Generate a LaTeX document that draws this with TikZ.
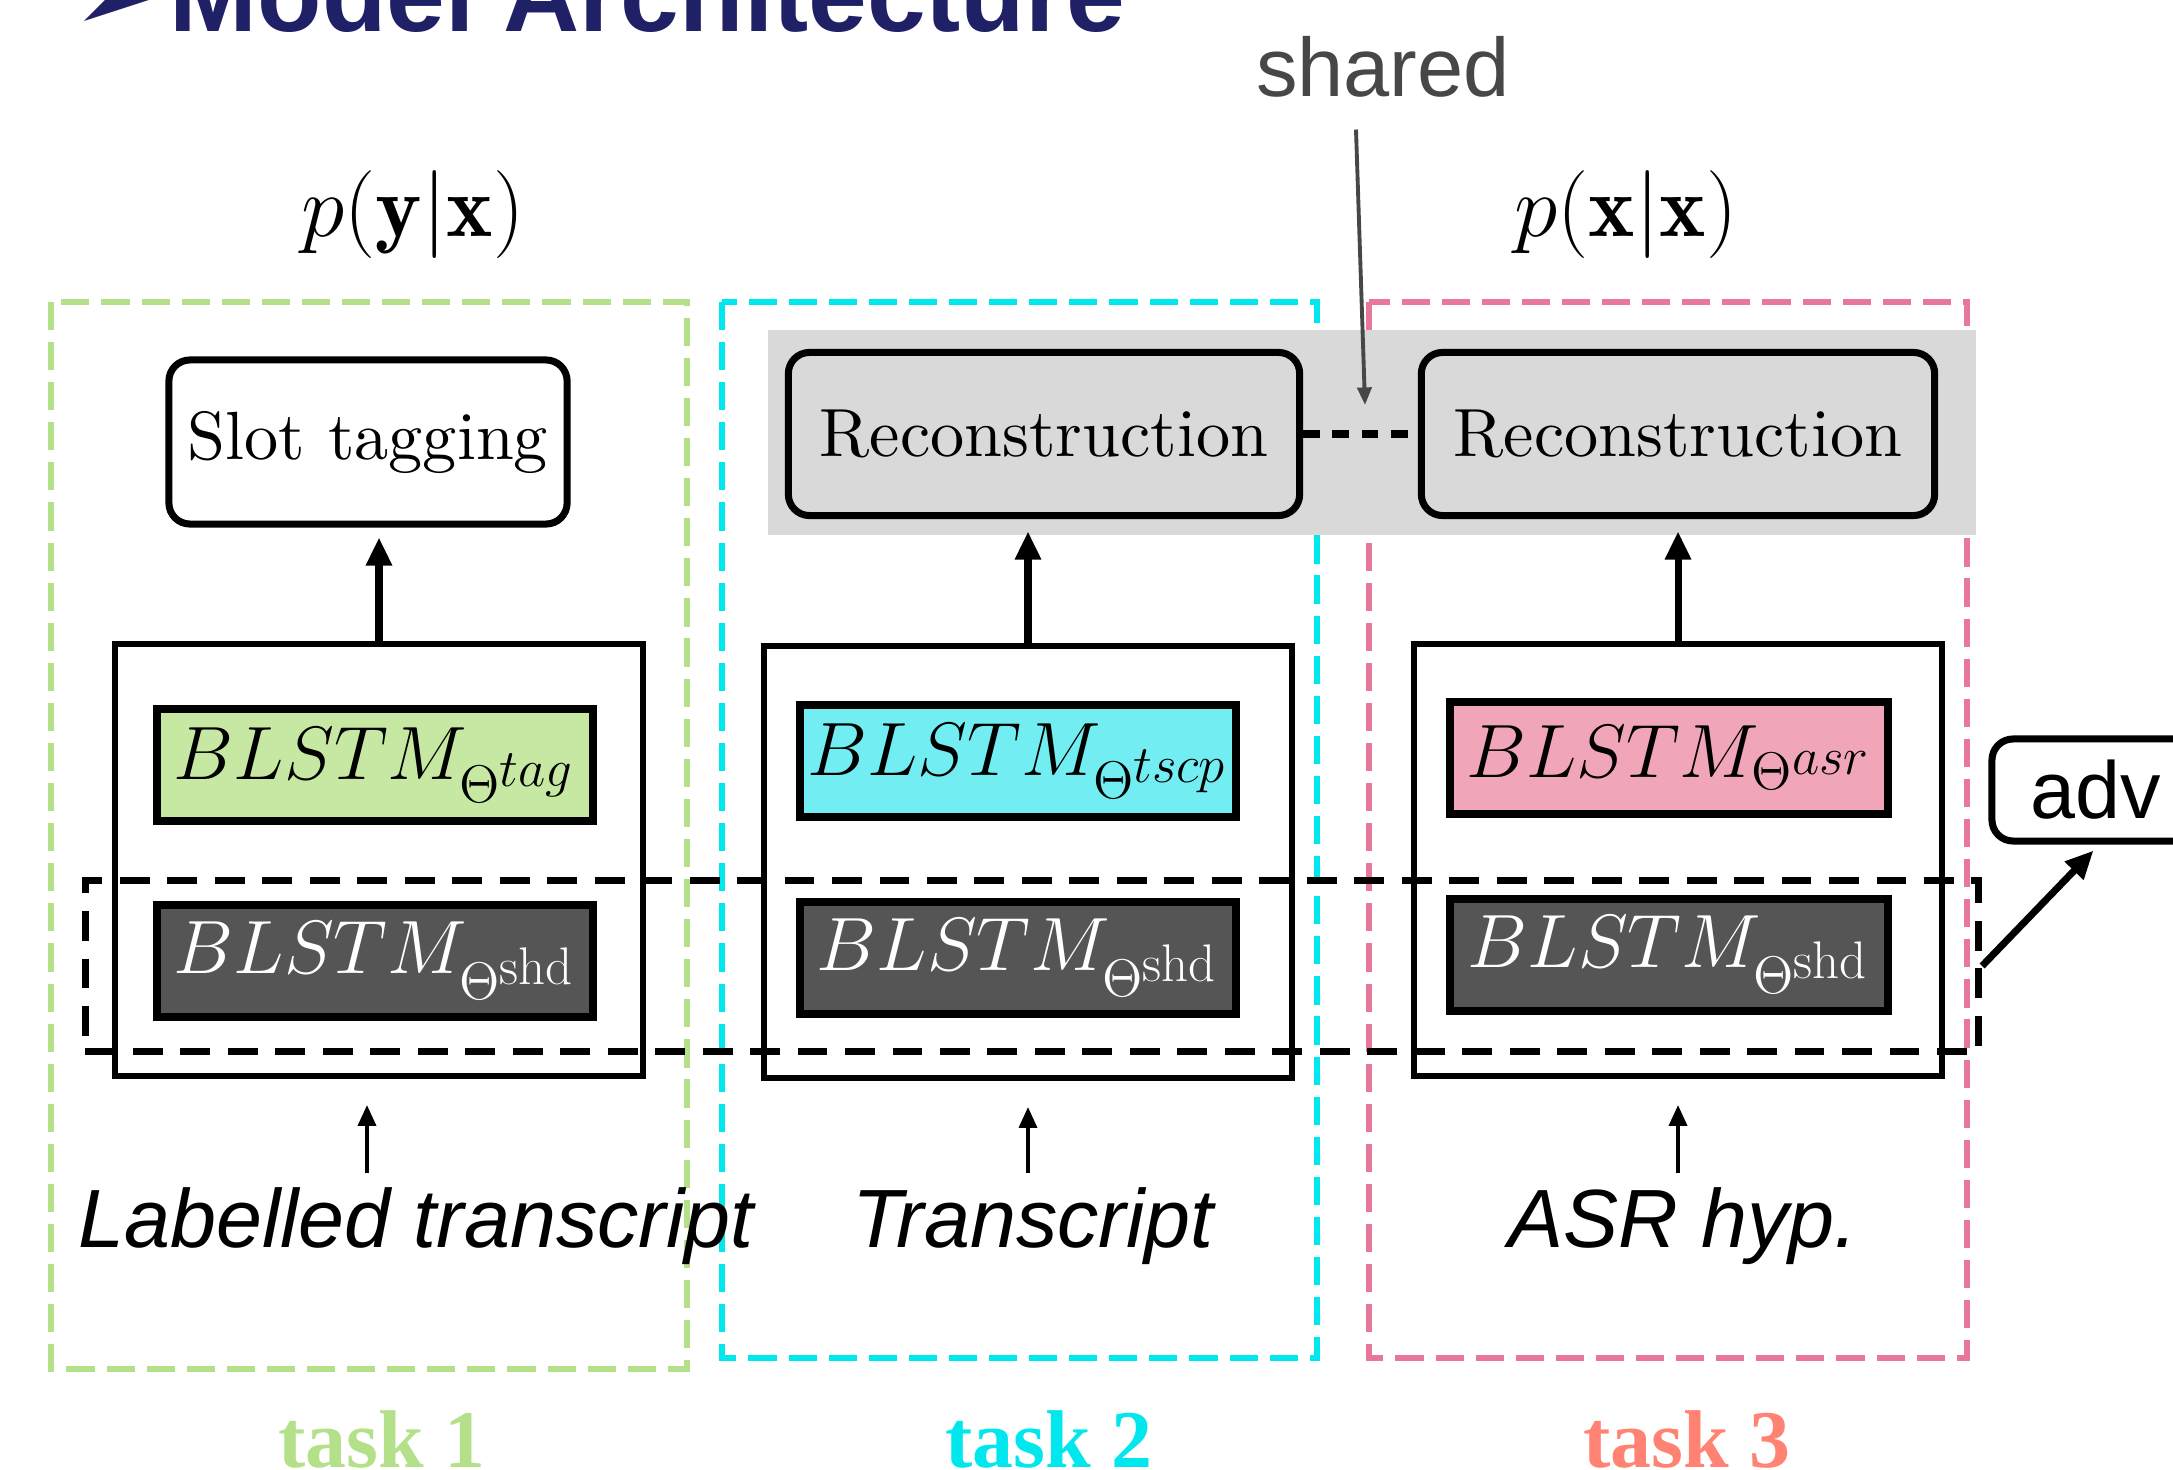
\RequirePackage{fix-cm}
\documentclass[tikz,border=0pt]{standalone}
\usepackage{fontspec}
\newfontfamily\arialf{Liberation Sans}
\newfontfamily\timesf{Liberation Serif}
\newfontfamily\dejavu{DejaVu Sans}
\newfontfamily\lmten{lmroman10-regular}[Extension=.otf]
\usetikzlibrary{arrows.meta}
\definecolor{tgreen}{HTML}{B5E08A}
\definecolor{tgreenfill}{HTML}{C6E8A2}
\definecolor{tcyan}{HTML}{00E8EE}
\definecolor{tcyanfill}{HTML}{72EEF2}
\definecolor{tpink}{HTML}{E8789A}
\definecolor{tpinkfill}{HTML}{F0A6B8}
\definecolor{tsalmon}{HTML}{FF8272}
\definecolor{shdfill}{HTML}{555555}
\definecolor{band}{HTML}{D9D9D9}
\definecolor{navy}{HTML}{202066}
\definecolor{sharedgray}{HTML}{474747}
\begin{document}
\begin{tikzpicture}[x=0.01cm,y=-0.01cm,
  coldash/.style={line width=1.6pt, dash pattern=on 8pt off 3.4pt},
  grpdash/.style={draw, line width=2pt, dash pattern=on 8.5pt off 5pt, inner sep=0},
  recdash/.style={line width=2pt, dash pattern=on 4.8pt off 3.5pt},
  rbox/.style={draw, line width=2pt, rounded corners=6pt, inner sep=0, font=\lmten\fontsize{19.4}{23}\selectfont},
  bigbox/.style={draw, line width=1.7pt, inner sep=0, minimum width=5.28cm, minimum height=4.32cm},
  lstm/.style={draw, line width=2.3pt, inner sep=0, minimum width=4.35cm, minimum height=1.12cm, font=\fontsize{21.5}{25}\selectfont},
  upar/.style={line width=2pt, -{Triangle[length=8pt,width=7pt]}},
  inar/.style={line width=1.3pt, -{Triangle[length=6pt,width=5pt]}},
  intext/.style={font=\arialf\itshape\fontsize{23.5}{28}\selectfont, inner sep=0, anchor=base},
  tasklbl/.style={font=\timesf\bfseries\fontsize{23.3}{27}\selectfont, inner sep=0, anchor=base},
  prob/.style={font=\fontsize{25}{29}\selectfont, inner sep=0, anchor=base},
]
\useasboundingbox (0,0) rectangle (2173,1470);
\clip (0,0) rectangle (2173,1470);

% title (cut at the top)
\node[anchor=base west, inner sep=0, font=\dejavu\fontsize{30}{36}\selectfont, text=navy] (bullet) at (72,32) {➢};
\node[anchor=base west, inner sep=0, font=\arialf\bfseries\fontsize{30}{36}\selectfont, text=navy] (title) at (169,32) {Model Architecture};

% task regions
\draw[coldash, tgreen] (51,302) rectangle (687,1369);
\draw[coldash, tcyan] (722,302) rectangle (1317,1358);
\draw[coldash, tpink] (1369,302) rectangle (1967,1358);
\fill[band] (768,330) rectangle (1976,535);

% probabilities
\node[prob] (py) at (413,237) {$p(\mathbf{y}|\mathbf{x})$};
\node[prob] (px) at (1626,237) {$p(\mathbf{x}|\mathbf{x})$};

% shared label
\node[anchor=base, inner sep=0, font=\arialf\fontsize{23.6}{28}\selectfont, text=sharedgray] (sharedlbl) at (1383,97) {shared};

% upper boxes
\node[rbox, fill=white, minimum width=3.98cm, minimum height=1.64cm] (slot) at (368,442) {Slot tagging};
\node[rbox, fill=band, minimum width=5.11cm, minimum height=1.63cm] (rec1) at (1044,434) {Reconstruction};
\node[rbox, fill=band, minimum width=5.13cm, minimum height=1.63cm] (rec2) at (1678,434) {Reconstruction};
\draw[recdash] (rec1.east) -- (rec2.west);
\coordinate (sharedtip) at (1365,405);
\draw[sharedgray, line width=1.1pt, -{Triangle[length=5pt,width=4pt]}] ([xshift=-0.27cm,yshift=-0.31cm]sharedlbl.south) -- (sharedtip);

% model boxes
\node[bigbox] (big1) at (379,860) {};
\node[bigbox, minimum width=5.27cm] (big2) at (1028,862) {};
\node[bigbox, minimum width=5.27cm] (big3) at (1678,860) {};

\node[lstm, fill=tgreenfill] (tag1) at (375,765) {$BLSTM_{\Theta^{\scriptstyle tag}}$};
\node[lstm, fill=shdfill, text=white] (shd1) at (375,961) {$BLSTM_{\Theta^{\scriptstyle \mathrm{shd}}}$};
\node[lstm, fill=tcyanfill] (tscp) at (1018,761) {$BLSTM_{\Theta^{\scriptstyle tscp}}$};
\node[lstm, fill=shdfill, text=white] (shd2) at (1018,958) {$BLSTM_{\Theta^{\scriptstyle \mathrm{shd}}}$};
\node[lstm, fill=tpinkfill, minimum width=4.37cm] (asr) at (1669,758) {$BLSTM_{\Theta^{\scriptstyle asr}}$};
\node[lstm, fill=shdfill, text=white, minimum width=4.37cm] (shd3) at (1669,955) {$BLSTM_{\Theta^{\scriptstyle \mathrm{shd}}}$};

% up arrows
\draw[upar, shorten >=2.8pt] (big1.north) -- (big1.north |- slot.south);
\draw[upar, shorten >=3.5pt] (big2.north) -- (big2.north |- rec1.south);
\draw[upar, shorten >=3.5pt] (big3.north) -- (big3.north |- rec2.south);

% inputs
\node[intext] (in1) at (416,1247) {Labelled transcript};
\node[intext] (in2) at (1033,1247) {Transcript};
\node[intext] (in3) at (1683,1247) {ASR hyp.};
\draw[inar, shorten <=3.7pt, shorten >=7.3pt] ([xshift=-0.12cm]in1.north -| big1.south) -- ([xshift=-0.12cm]big1.south);
\draw[inar, shorten <=3.7pt, shorten >=7.3pt] (in2.north -| big2.south) -- (big2.south);
\draw[inar, shorten <=3.7pt, shorten >=7.3pt] (in3.north -| big3.south) -- (big3.south);

% shared group and adversarial
\node[grpdash, minimum width=18.92cm, minimum height=1.71cm] (sharedgrp) at (1032,966) {};
\node[draw, line width=2pt, rounded corners=6pt, fill=white, minimum width=2.08cm, minimum height=1.02cm, inner sep=0, font=\arialf\fontsize{23}{28}\selectfont] (adv) at (2096,790) {adv};
\draw[upar] (sharedgrp.east) -- ([xshift=1.05cm,yshift=-0.06cm]adv.south west);

% task labels
\node[tasklbl, text=tgreen] (task1) at (382,1467) {task 1};
\node[tasklbl, text=tcyan] (task2) at (1049,1467) {task 2};
\node[tasklbl, text=tsalmon] (task3) at (1687,1467) {task 3};
\end{tikzpicture}
\end{document}
